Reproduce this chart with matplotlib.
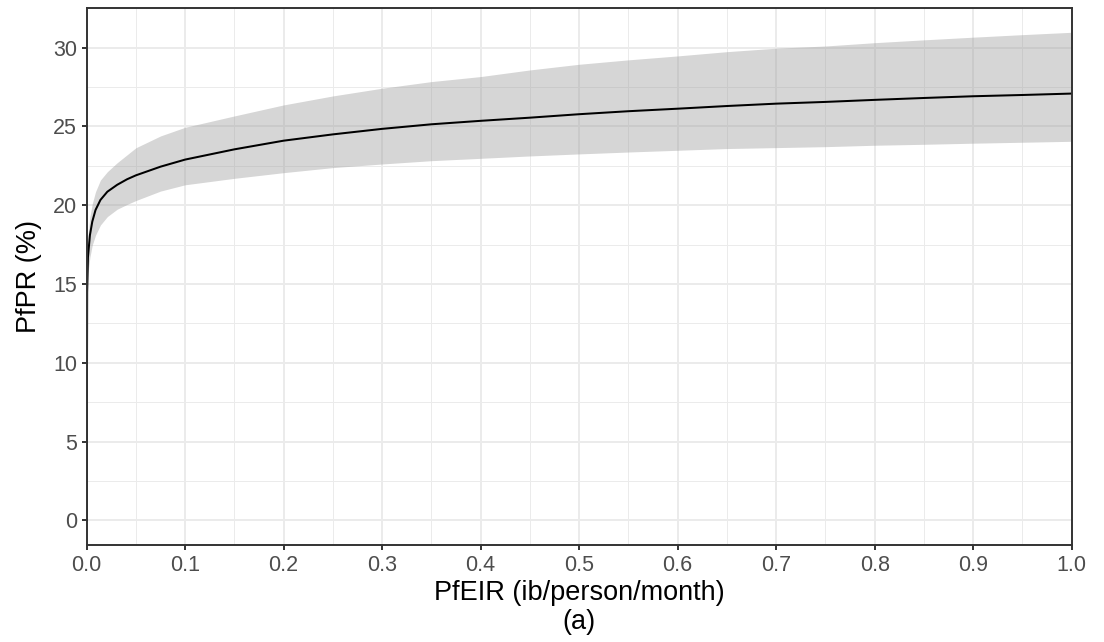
import matplotlib
matplotlib.use("Agg")
import matplotlib.pyplot as plt
from matplotlib.ticker import MultipleLocator

plt.rcParams['font.family'] = ['Liberation Sans', 'DejaVu Sans']

# Data
eir = [0, 0.0005, 0.0013, 0.0033, 0.0057, 0.009, 0.014, 0.021, 0.031, 0.041,
       0.05, 0.075, 0.1, 0.15, 0.2, 0.25, 0.3, 0.35, 0.4, 0.45, 0.5, 0.55, 0.6,
       0.65, 0.7, 0.75, 0.8, 0.85, 0.9, 0.95, 1.0]
pfpr_mean = [0, 14.5, 16.7, 18.1, 18.96, 19.7, 20.34, 20.86, 21.3, 21.65,
             21.9, 22.45, 22.9, 23.55, 24.1, 24.5, 24.85, 25.14, 25.36, 25.56,
             25.78, 25.97, 26.13, 26.3, 26.45, 26.56, 26.69, 26.81, 26.92, 27.0,
             27.09]
pfpr_upper = [0, 15.2, 18.0, 19.28, 20.1, 20.86, 21.6, 22.13, 22.7, 23.2,
              23.65, 24.4, 24.95, 25.67, 26.37, 26.94, 27.43, 27.85, 28.17,
              28.59, 28.95, 29.23, 29.48, 29.75, 29.97, 30.11, 30.32, 30.5,
              30.67, 30.83, 30.98]
pfpr_lower = [0, 13.8, 15.7, 16.7, 17.48, 18.1, 18.75, 19.28, 19.75, 20.05,
              20.3, 20.9, 21.3, 21.71, 22.07, 22.39, 22.62, 22.83, 22.98, 23.13,
              23.26, 23.38, 23.49, 23.6, 23.66, 23.72, 23.81, 23.87, 23.94, 24.0,
              24.06]

x_ticks = [0.0, 0.1, 0.2, 0.3, 0.4, 0.5, 0.6, 0.7, 0.8, 0.9, 1.0]
y_ticks = [0, 5, 10, 15, 20, 25, 30]

fig = plt.figure(figsize=(11.04, 6.42), dpi=100)
ax = fig.add_axes([0.0785, 0.151, 0.9707 - 0.0785, 0.987 - 0.151])

ax.set_xlim(0, 1.0)
ax.set_ylim(-1.57, 32.5)

# grid
ax.xaxis.set_minor_locator(MultipleLocator(0.05))
ax.yaxis.set_minor_locator(MultipleLocator(2.5))
ax.set_xticks(x_ticks)
ax.set_xticklabels([f"{v:.1f}" for v in x_ticks])
ax.set_yticks(y_ticks)
ax.set_yticklabels([str(v) for v in y_ticks])
ax.grid(which='major', color='#EBEBEB', linewidth=1.4, zorder=0)
ax.grid(which='minor', color='#EBEBEB', linewidth=0.7, zorder=0)
ax.set_axisbelow(True)

ax.fill_between(eir, pfpr_lower, pfpr_upper, color='#999999', alpha=0.4,
                linewidth=0, zorder=2)
ax.plot(eir, pfpr_mean, color='black', linewidth=1.45, zorder=3)

for s in ax.spines.values():
    s.set_color('#333333')
    s.set_linewidth(1.4)
    s.set_zorder(5)

ax.tick_params(which='major', length=3.5, width=1.4, color='#333333',
               labelcolor='#4D4D4D', labelsize=15.5, pad=3.5)
ax.tick_params(which='minor', length=0)

ax.set_xlabel("PfEIR (ib/person/month)\n(a)", fontsize=19.5, color='black',
              linespacing=1.15, labelpad=3)
ax.set_ylabel("PfPR (%)", fontsize=19.5, color='black', labelpad=8)

fig.savefig("out.png", dpi=100, facecolor='white')
